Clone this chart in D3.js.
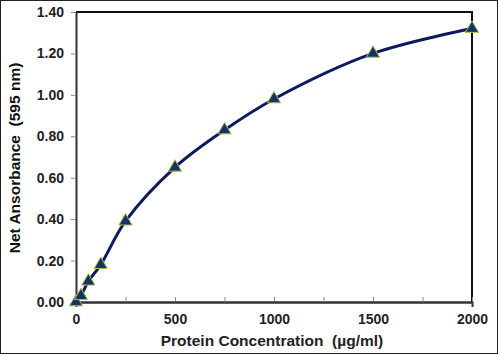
<!DOCTYPE html>
<html><head><meta charset="utf-8">
<script src="https://cdn.jsdelivr.net/npm/d3@7"></script>
<style>body{margin:0;background:#fff}svg{display:block}</style>
</head><body>
<script>
const concentrations = [0, 25, 62.5, 125, 250, 500, 750, 1000, 1500, 2000];
const absorbance = [0.00, 0.03, 0.10, 0.18, 0.39, 0.65, 0.83, 0.98, 1.20, 1.32];
const xTicks = [0, 500, 1000, 1500, 2000];
const xMinorTicks = [250, 750, 1250, 1750];
const yTicks = [0, 0.2, 0.4, 0.6, 0.8, 1.0, 1.2, 1.4];
const xTitle = "Protein Concentration  (µg/ml)";
const yTitle = "Net Ansorbance  (595 nm)";

const W = 498, H = 355;
const m = {l: 76, r: 26, t: 12, b: 53};
const svg = d3.select("body").append("svg").attr("width", W).attr("height", H);
svg.append("rect").attr("x", 0.5).attr("y", 0.5).attr("width", W - 1).attr("height", H - 2)
  .attr("fill", "#fff").attr("stroke", "#222").attr("stroke-width", 1);

const x = d3.scaleLinear().domain([0, 2000]).range([m.l, W - m.r]);
const y = d3.scaleLinear().domain([0, 1.4]).range([H - m.b, m.t]);

svg.append("path").attr("d", `M${x(0)},${y(1.4)}H${x(2000)}V${y(0)}`)
  .attr("fill", "none").attr("stroke", "#111").attr("stroke-width", 2);

const fontT = "'Liberation Sans', Arial, sans-serif";
const gx = svg.append("g").attr("transform", `translate(0,${y(0)})`)
  .call(d3.axisBottom(x).tickValues(xTicks).tickSize(5).tickSizeOuter(0).tickFormat(d3.format("d")));
gx.append("g").call(d3.axisBottom(x).tickValues(xMinorTicks).tickSize(5).tickFormat(""));
const gy = svg.append("g").attr("transform", `translate(${x(0)},0)`)
  .call(d3.axisLeft(y).tickValues(yTicks).tickSize(5).tickSizeOuter(0).tickFormat(d3.format(".2f")));
[gx, gy].forEach(g => {
  g.selectAll(".domain").attr("stroke", "#333").attr("stroke-width", 2);
  g.selectAll("line").attr("stroke", "#888").attr("stroke-width", 1);
  g.selectAll("text").attr("fill", "#222").attr("font-family", fontT)
    .attr("font-weight", "bold").attr("font-size", 14);
});
gx.selectAll("text").attr("dy", "1.0em");
gy.selectAll("text").attr("x", -12);
gx.selectAll(".tick line").attr("transform", "translate(0,-5)");

svg.append("text").attr("x", 272).attr("y", 346).attr("text-anchor", "middle")
  .style("white-space", "pre")
  .attr("font-family", fontT).attr("font-weight", "bold").attr("font-size", 15.5)
  .attr("fill", "#222").text(xTitle);
svg.append("text").attr("transform", "translate(20,158) rotate(-90)").attr("text-anchor", "middle")
  .style("white-space", "pre")
  .attr("font-family", fontT).attr("font-weight", "bold").attr("font-size", 15.5)
  .attr("fill", "#111").text(yTitle);

const data = concentrations.map((c, i) => [c, absorbance[i]]);
svg.append("path").datum(data)
  .attr("d", d3.line().x(d => x(d[0])).y(d => y(d[1])).curve(d3.curveCatmullRom.alpha(0.5)))
  .attr("fill", "none").attr("stroke", "#0d1a5e").attr("stroke-width", 3);

svg.selectAll(".pt").data(data).enter().append("path")
  .attr("transform", d => `translate(${x(d[0])},${y(d[1])})`)
  .attr("d", d3.symbol(d3.symbolTriangle, 75))
  .attr("fill", "#16325e").attr("stroke", "#a8c050").attr("stroke-width", 1);
</script>
</body></html>
